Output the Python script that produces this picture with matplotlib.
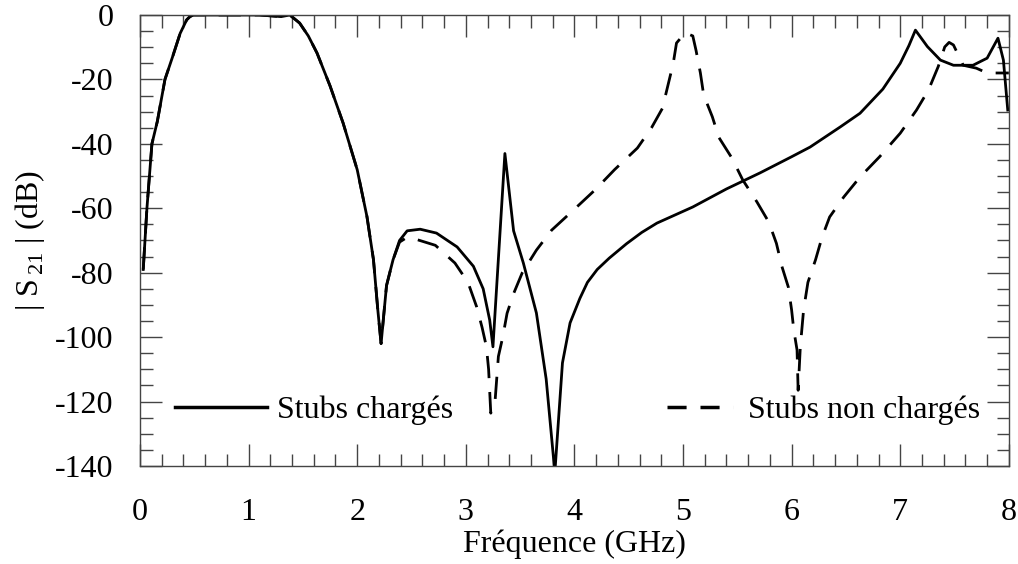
import numpy as np
import matplotlib.pyplot as plt
from matplotlib.lines import Line2D
from matplotlib.ticker import MultipleLocator

# ---------------------------
# Data
# ---------------------------
freq_charges = [0.03, 0.064, 0.11, 0.16, 0.23, 0.30, 0.37, 0.43, 0.46, 0.49, 0.8, 1.1, 1.3,
                1.38, 1.47, 1.55, 1.63, 1.75, 1.87, 2.0, 2.09, 2.15, 2.19, 2.22, 2.27,
                2.33, 2.39, 2.46, 2.58, 2.73, 2.92, 3.07, 3.16, 3.22, 3.25, 3.36, 3.44,
                3.53, 3.65, 3.74, 3.82, 3.89, 3.96, 4.05, 4.12, 4.21, 4.32, 4.48, 4.62,
                4.76, 5.09, 5.4, 5.71, 6.0, 6.17, 6.45, 6.63, 6.84, 7.0, 7.08, 7.14,
                7.25, 7.37, 7.49, 7.67, 7.8, 7.9, 7.95, 7.99]
s21_charges = [-79, -60, -40, -33, -20, -13, -5.7, -1.5, -0.5, 0, 0, 0, -0.5,
               0, -2.5, -6.5, -11.8, -22, -33.5, -48, -62.6, -76, -91.6, -102, -84,
               -76, -70, -67, -66.5, -67.7, -72, -78, -85, -94.7, -103, -43, -67,
               -77, -92.5, -113, -142, -108, -95.6, -88, -83, -79, -75.5, -71, -67.5,
               -64.6, -59.6, -54, -49, -44, -41, -34.7, -30.5, -23, -15, -9.5, -4.7,
               -9.8, -14, -15.6, -15.6, -13.4, -7.2, -14, -29.5]

freq_non_charges = [0.03, 0.064, 0.11, 0.16, 0.23, 0.30, 0.37, 0.43, 0.46, 0.49, 0.8, 1.1, 1.3,
                    1.38, 1.47, 1.55, 1.63, 1.75, 1.87, 2.0, 2.09, 2.15, 2.19, 2.22, 2.27,
                    2.33, 2.39, 2.46, 2.51, 2.72, 2.9, 3.02, 3.1, 3.15, 3.19, 3.21, 3.23,
                    3.27, 3.3, 3.34, 3.38, 3.44, 3.52, 3.65, 3.79, 3.99, 4.19, 4.37, 4.58,
                    4.71, 4.81, 4.86, 4.91, 4.94, 5.02, 5.09, 5.12, 5.16, 5.19, 5.27, 5.33,
                    5.45, 5.55, 5.68, 5.79, 5.86, 5.91, 5.97, 6.0, 6.02, 6.05, 6.06, 6.08,
                    6.11, 6.15, 6.22, 6.28, 6.35, 6.48, 6.63, 6.81, 7.0, 7.15, 7.26, 7.35,
                    7.41, 7.45, 7.49, 7.58, 7.7, 7.8, 8.0]
s21_non_charges = [-79, -60, -40, -33, -20, -13, -5.7, -1.5, -0.5, 0, 0, 0, -0.5,
                   0, -2.5, -6.5, -11.8, -22, -33.5, -48, -62.6, -76, -91.6, -102, -84,
                   -76, -70.5, -69, -69.3, -71.5, -77, -83, -90.6, -97, -103, -110, -123.6,
                   -119.6, -106, -100, -92.6, -86.5, -80, -73, -66.8, -60.6, -54.3, -48, -41.3,
                   -35, -29, -22, -15, -8.7, -5.5, -6.5, -11, -18, -24.8, -31.6, -38,
                   -44.4, -51.2, -58, -64.3, -70.9, -78, -84.5, -91.6, -97.8, -104, -116.5, -103,
                   -91.6, -83, -76, -69, -62.7, -56.5, -50.3, -44, -36.7, -29.5, -23.3, -16,
                   -9.9, -8.5, -9.3, -15.6, -16.5, -18, -18]

x_ticks = [0, 1, 2, 3, 4, 5, 6, 7, 8]
y_ticks = [0, -20, -40, -60, -80, -100, -120, -140]

# ---------------------------
# Style
# ---------------------------
plt.rcParams['font.family'] = ['Liberation Serif', 'DejaVu Serif']
plt.rcParams['mathtext.fontset'] = 'custom'
plt.rcParams['mathtext.rm'] = 'Liberation Serif'
plt.rcParams['axes.unicode_minus'] = False

fig = plt.figure(figsize=(10.18, 5.64), dpi=100)
ax = fig.add_axes([0.1375, 0.1738, 0.8535, 0.7996])

ax.plot(freq_non_charges, s21_non_charges, color='black', lw=2.0, dashes=(8, 5))
ax.plot(freq_charges, s21_charges, color='black', lw=2.0)

ax.set_xlim(0, 8)
ax.set_ylim(-140, 0)
ax.set_xticks(x_ticks)
ax.set_yticks(y_ticks)
ax.xaxis.set_minor_locator(MultipleLocator(0.2))
ax.yaxis.set_minor_locator(MultipleLocator(5))
ax.tick_params(which='both', direction='in', top=True, right=True,
               color='#444444', width=1.0, labelsize=23)
ax.tick_params(which='major', length=16)
ax.tick_params(which='minor', length=9)
ax.tick_params(axis='x', which='major', pad=23)
ax.tick_params(axis='y', which='major', pad=19)
for sp in ax.spines.values():
    sp.set_color('#444444')
    sp.set_linewidth(1.0)

ax.set_xlabel("Fréquence (GHz)", fontsize=23, labelpad=2)
ax.set_ylabel("| S$_{\\,21}$ | (dB)", fontsize=23, labelpad=6)

# ---------------------------
# Legends
# ---------------------------
h1 = Line2D([], [], color='black', lw=2.5)
h2 = Line2D([], [], color='black', lw=2.5, dashes=(5.5, 4))
leg1 = ax.legend([h1], ["Stubs chargés"], loc='center left', bbox_to_anchor=(0.04, 0.124),
                 frameon=False, fontsize=23, handlelength=2.9, handletextpad=0.3,
                 borderpad=0, borderaxespad=0)
ax.add_artist(leg1)
ax.legend([h2], ["Stubs non chargés"], loc='center right', bbox_to_anchor=(0.967, 0.124),
          frameon=False, fontsize=23, handlelength=2.05, handletextpad=0.48,
          borderpad=0, borderaxespad=0)

plt.savefig("out.png", dpi=100)
